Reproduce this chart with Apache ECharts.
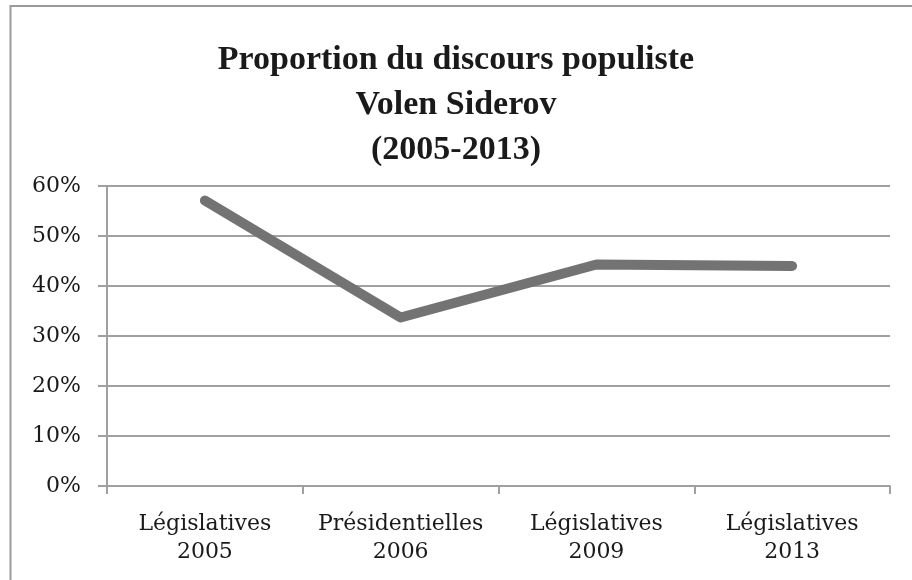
<!DOCTYPE html>
<html>
<head>
<meta charset="utf-8">
<title>Proportion du discours populiste – Volen Siderov</title>
<script src="https://cdn.jsdelivr.net/npm/echarts@6/dist/echarts.min.js"></script>
<style>
  html, body { margin: 0; padding: 0; background: #ffffff; }
  #chart { width: 912px; height: 580px; }
</style>
</head>
<body>
<div id="chart"></div>
<script>
// Share of populist discourse in Volen Siderov's campaigns
const titleLines = ['Proportion du discours populiste', 'Volen Siderov', '(2005-2013)'];
const categories = ['Législatives\n2005', 'Présidentielles\n2006', 'Législatives\n2009', 'Législatives\n2013'];
const populistShare = [0.571, 0.337, 0.443, 0.440];
const yTickLabels = ['0%', '10%', '20%', '30%', '40%', '50%', '60%'];

const axisGray = '#a0a0a0';
const textColor = '#1a1a1a';
const labelFont = '"DejaVu Serif", "Liberation Serif", serif';

const chart = echarts.init(document.getElementById('chart'), null, { renderer: 'canvas' });

chart.setOption({
  backgroundColor: '#ffffff',
  animation: false,
  graphic: [{
    type: 'rect',
    silent: true,
    shape: { x: 10.5, y: 6, width: 1000, height: 1000 },
    style: { fill: 'none', stroke: '#9a9a9a', lineWidth: 2 }
  }],
  title: {
    text: titleLines.join('\n'),
    left: 'center',
    top: 33,
    textStyle: {
      fontFamily: '"Liberation Serif", serif',
      fontWeight: 'bold',
      fontSize: 34,
      lineHeight: 45,
      color: textColor
    }
  },
  grid: { left: 107, right: 22, top: 186, bottom: 94, containLabel: false },
  xAxis: {
    type: 'category',
    data: categories,
    boundaryGap: true,
    axisLine: { show: true, lineStyle: { color: axisGray, width: 2 } },
    axisTick: { show: true, length: 8, alignWithLabel: false, lineStyle: { color: axisGray, width: 2 } },
    axisLabel: {
      margin: 24,
      fontFamily: labelFont,
      fontSize: 22,
      lineHeight: 28,
      color: textColor,
      interval: 0
    },
    splitLine: { show: false }
  },
  yAxis: {
    type: 'value',
    min: 0,
    max: 0.6,
    interval: 0.1,
    axisLine: { show: true, lineStyle: { color: axisGray, width: 2 } },
    axisTick: { show: true, length: 9, lineStyle: { color: axisGray, width: 2 } },
    axisLabel: {
      margin: 26,
      fontFamily: labelFont,
      fontSize: 22,
      color: textColor,
      formatter: function (v) { return yTickLabels[Math.round(v * 10)]; }
    },
    splitLine: { show: true, lineStyle: { color: axisGray, width: 2 } }
  },
  series: [{
    type: 'line',
    data: populistShare,
    symbol: 'none',
    lineStyle: { color: '#737373', width: 10, cap: 'round', join: 'round' }
  }]
});
</script>
</body>
</html>
